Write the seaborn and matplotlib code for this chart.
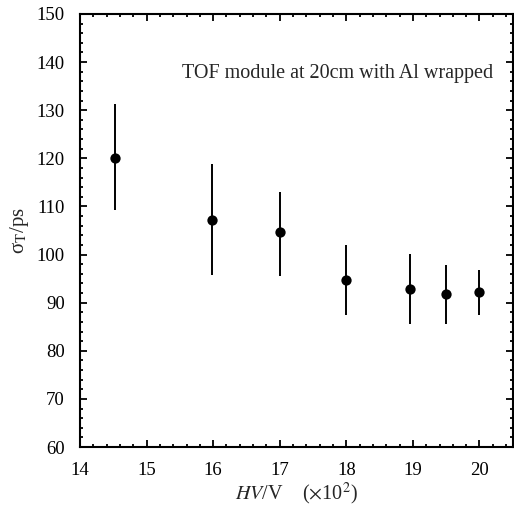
import matplotlib
matplotlib.use('Agg')
import matplotlib.pyplot as plt
import seaborn as sns
import pandas as pd
from matplotlib.ticker import MultipleLocator

# values
hv = [14.52, 15.98, 17.01, 18.0, 18.96, 19.5, 20.0]
sigma = [120.0, 107.2, 104.6, 94.7, 92.9, 91.7, 92.2]
err_low = [109.2, 95.7, 95.6, 87.4, 85.6, 85.6, 87.4]
err_high = [131.2, 118.8, 113.0, 102.0, 100.1, 97.9, 96.8]

df = pd.DataFrame({'hv': hv, 'sigma': sigma})

def main():
    sns.set_style('ticks')
    plt.rcParams['font.family'] = ['Liberation Serif', 'DejaVu Serif']
    plt.rcParams['mathtext.fontset'] = 'stix'

    fig = plt.figure(figsize=(5.14, 5.09), dpi=100)
    ax = fig.add_axes([0.1556, 0.1218, 0.842, 0.8507])

    yerr = [[s - lo for s, lo in zip(sigma, err_low)],
            [hi - s for s, hi in zip(sigma, err_high)]]
    ax.errorbar(hv, sigma, yerr=yerr, fmt='none', ecolor='black', elinewidth=1.4, capsize=0)
    sns.scatterplot(data=df, x='hv', y='sigma', color='black', s=55, edgecolor='black', linewidth=0, ax=ax, zorder=3)

    ax.set_xlim(14, 20.5)
    ax.set_ylim(60, 150)
    ax.xaxis.set_major_locator(MultipleLocator(1))
    ax.xaxis.set_minor_locator(MultipleLocator(0.2))
    ax.yaxis.set_major_locator(MultipleLocator(10))
    ax.yaxis.set_minor_locator(MultipleLocator(2))
    ax.tick_params(which='both', direction='in', top=True, right=True, colors='black', labelsize=13.5, width=1.3)
    ax.tick_params(which='major', length=5)
    ax.tick_params(which='minor', length=2.5)
    ax.tick_params(axis='y', which='major', pad=11)
    ax.tick_params(axis='x', which='major', pad=11)
    for sp in ax.spines.values():
        sp.set_visible(True)
        sp.set_linewidth(1.5)
        sp.set_color('black')

    ax.set_xlabel(r'$HV$/V    ($\times$10$^{2}$)', fontsize=14.5, labelpad=1)
    ax.set_ylabel('σ$_{\\mathrm{T}}$/ps', fontsize=15, labelpad=4)
    ax.text(20.2, 137.7, 'TOF module at 20cm with Al wrapped', ha='right', va='center', fontsize=14.5)

    fig.savefig('out.png', dpi=100)
    plt.close(fig)

if __name__ == '__main__':
    main()
